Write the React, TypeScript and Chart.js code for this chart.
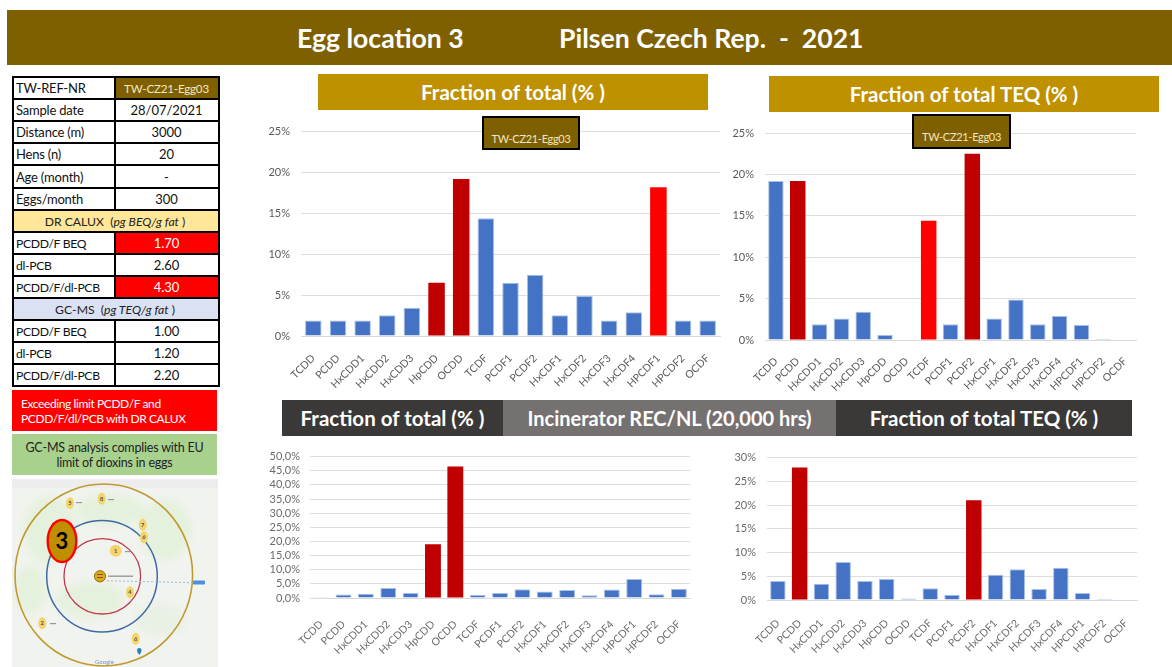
import React, { useEffect, useRef } from "react";
import { Chart, registerables } from "chart.js";

Chart.register(...registerables);

const FONT = "Lato, 'Open Sans', sans-serif";

const categories = ["TCDD", "PCDD", "HxCDD1", "HxCDD2", "HxCDD3", "HpCDD", "OCDD", "TCDF", "PCDF1", "PCDF2", "HxCDF1", "HxCDF2", "HxCDF3", "HxCDF4", "HPCDF1", "HPCDF2", "OCDF"];

const eggFraction = [1.9, 1.9, 1.9, 2.55, 3.45, 6.5, 19.2, 14.4, 6.5, 7.5, 2.55, 4.9, 1.9, 2.9, 18.2, 1.9, 1.9];
const eggTeq = [19.2, 19.2, 1.9, 2.6, 3.4, 0.6, 0, 14.4, 1.9, 22.5, 2.6, 4.9, 1.9, 2.9, 1.8, 0.15, 0];
const incFraction = [0.3, 1.2, 1.5, 3.5, 1.8, 19.0, 46.5, 1.1, 1.8, 3.1, 2.3, 2.8, 1.0, 3.0, 6.7, 1.3, 3.3];
const incTeq = [4.0, 27.9, 3.4, 8.0, 4.0, 4.4, 0.3, 2.5, 1.1, 21.0, 5.3, 6.5, 2.3, 6.8, 1.5, 0.2, 0];

const eggFractionDark = ["HpCDD", "OCDD"];
const eggFractionBright = ["HPCDF1"];
const eggTeqDark = ["PCDD", "PCDF2"];
const eggTeqBright = ["TCDF"];
const incFractionDark = ["HpCDD", "OCDD"];
const incTeqDark = ["PCDD", "PCDF2"];

const sampleCode = "TW-CZ21-Egg03";
const titleLeft = "Egg location 3";
const titleRight = "Pilsen Czech Rep.  -  2021";
const headFraction = "Fraction of total (% )";
const headTeq = "Fraction of total TEQ (% )";
const headIncinerator = "Incinerator REC/NL (20,000 hrs)";

const infoRows = [
  ["Sample date", "28/07/2021"],
  ["Distance (m)", "3000"],
  ["Hens (n)", "20"],
  ["Age (month)", "-"],
  ["Eggs/month", "300"],
];
const caluxRows = [
  ["PCDD/F BEQ", "1.70"],
  ["dl-PCB", "2.60"],
  ["PCDD/F/dl-PCB", "4.30"],
];
const caluxExceeded = ["PCDD/F BEQ", "PCDD/F/dl-PCB"];
const gcmsRows = [
  ["PCDD/F BEQ", "1.00"],
  ["dl-PCB", "1.20"],
  ["PCDD/F/dl-PCB", "2.20"],
];

type Box = { l: number; t: number; r: number; b: number };

function BarChart(props: {
  values: number[];
  dark: string[];
  bright?: string[];
  max: number;
  step: number;
  decimals: number;
  canvas: Box;
  plot: Box;
  bar: number;
  tickColor: string;
  xPad: number;
  yPad: number;
}) {
  const ref = useRef<HTMLCanvasElement>(null);
  const { values, dark, bright = [], max, step, decimals, canvas, plot, bar, tickColor, xPad, yPad } = props;
  useEffect(() => {
    const colorOf = (c: string) => (dark.includes(c) ? "#C00000" : bright.includes(c) ? "#FF0000" : "#4472C4");
    const chart = new Chart(ref.current!, {
      type: "bar",
      data: {
        labels: categories,
        datasets: [
          {
            data: values,
            backgroundColor: categories.map(colorOf),
            borderColor: categories.map((c) => (colorOf(c) === "#4472C4" ? "#A9BFE6" : colorOf(c))),
            borderWidth: categories.map((c) => (colorOf(c) === "#4472C4" ? 1 : 0)),
            barPercentage: bar,
            categoryPercentage: 1,
          },
        ],
      },
      options: {
        animation: false,
        responsive: false,
        maintainAspectRatio: false,
        layout: { padding: { top: plot.t - canvas.t, right: canvas.r - plot.r, left: 0, bottom: 0 } },
        plugins: { legend: { display: false }, tooltip: { enabled: false }, title: { display: false } },
        scales: {
          x: {
            grid: { display: false },
            border: { color: "#D9D9D9", width: 1 },
            afterFit: (s: any) => {
              s.height = canvas.b - plot.b;
            },
            ticks: {
              autoSkip: false,
              minRotation: 45,
              maxRotation: 45,
              padding: xPad,
              color: tickColor,
              font: { family: FONT, size: 10.5 },
            },
          },
          y: {
            min: 0,
            max,
            afterFit: (s: any) => {
              s.width = plot.l - canvas.l;
            },
            grid: { color: "#DEDEDE", lineWidth: 1, drawTicks: false },
            border: { display: false },
            ticks: {
              autoSkip: false,
              stepSize: step,
              padding: yPad,
              color: tickColor,
              font: { family: FONT, size: 11 },
              callback: (v: any) => Number(v).toFixed(decimals).replace(".", ",") + "%",
            },
          },
        },
      },
    });
    return () => chart.destroy();
  }, []);
  return (
    <canvas
      ref={ref}
      width={canvas.r - canvas.l}
      height={canvas.b - canvas.t}
      style={{ position: "absolute", left: canvas.l, top: canvas.t, width: canvas.r - canvas.l, height: canvas.b - canvas.t }}
    />
  );
}

function Band(p: { l: number; t: number; r: number; b: number; bg: string; children?: React.ReactNode; size?: number }) {
  return (
    <div
      style={{
        position: "absolute",
        left: p.l,
        top: p.t,
        width: p.r - p.l,
        height: p.b - p.t,
        background: p.bg,
        color: "#fff",
        fontSize: p.size ?? 20.5,
        fontWeight: 700,
        display: "flex",
        alignItems: "center",
        justifyContent: "center",
        boxSizing: "border-box",
        whiteSpace: "pre",
      }}
    >
      {p.children}
    </div>
  );
}

function Badge(p: { l: number; t: number; r: number; b: number }) {
  return (
    <div
      style={{
        position: "absolute",
        left: p.l,
        top: p.t,
        width: p.r - p.l,
        height: p.b - p.t,
        background: "#7F6000",
        border: "2px solid #000",
        boxSizing: "border-box",
        color: "#F3E6C4",
        fontSize: 11,
        letterSpacing: -0.3,
        whiteSpace: "nowrap",
        display: "flex",
        alignItems: "center",
        justifyContent: "center",
        paddingTop: 10,
      }}
    >
      {sampleCode}
    </div>
  );
}

const TBL = { l: 12, r: 218, mid: 115, top: 77, row: 22.1 };

function Row(p: { i: number; label: string; value: string; valueBg?: string; valueColor?: string }) {
  const top = Math.round(TBL.top + p.i * TBL.row);
  const bottom = Math.round(TBL.top + (p.i + 1) * TBL.row);
  const base: React.CSSProperties = { position: "absolute", top, height: bottom - top, display: "flex", alignItems: "center", fontSize: 13, color: "#111", whiteSpace: "nowrap" };
  const caps = /PCB|PCDD/.test(p.label);
  return (
    <>
      <div style={{ ...base, left: TBL.l, width: TBL.mid - TBL.l, paddingLeft: 4, boxSizing: "border-box", fontSize: caps ? 12.2 : 13, letterSpacing: caps ? -0.35 : -0.2 }}>{p.label}</div>
      <div style={{ ...base, left: TBL.mid, width: TBL.r - TBL.mid, justifyContent: "center", background: p.valueBg, color: p.valueColor ?? "#111", fontSize: p.i === 0 ? 11.6 : 13, letterSpacing: p.i === 0 ? -0.2 : 0 }}>{p.value}</div>
    </>
  );
}

function SectionRow(p: { i: number; bg: string; children: React.ReactNode }) {
  const top = Math.round(TBL.top + p.i * TBL.row);
  const bottom = Math.round(TBL.top + (p.i + 1) * TBL.row);
  return (
    <div style={{ position: "absolute", top, height: bottom - top, left: TBL.l, width: TBL.r - TBL.l, background: p.bg, display: "flex", alignItems: "center", justifyContent: "center", fontSize: 12.2, color: "#222", whiteSpace: "pre" }}>
      {p.children}
    </div>
  );
}

function Table() {
  const rows = 14;
  const sections = [6, 10];
  const lines: React.ReactNode[] = [];
  for (let i = 0; i <= rows; i++) {
    lines.push(<div key={"h" + i} style={{ position: "absolute", left: TBL.l, width: TBL.r - TBL.l + 2, top: Math.round(TBL.top + i * TBL.row) - 1, height: 2, background: "#000" }} />);
  }
  for (let i = 0; i < rows; i++) {
    if (sections.includes(i)) continue;
    lines.push(<div key={"v" + i} style={{ position: "absolute", left: TBL.mid - 1, width: 2, top: Math.round(TBL.top + i * TBL.row), height: 23, background: "#000" }} />);
  }
  return (
    <>
      <Row i={0} label="TW-REF-NR" value={sampleCode} valueBg="#7F6000" valueColor="#F3E6C4" />
      {infoRows.map((r, i) => (
        <Row key={r[0]} i={i + 1} label={r[0]} value={r[1]} />
      ))}
      <SectionRow i={6} bg="#FFE699">
        DR CALUX  (<i>pg BEQ/g fat</i> )
      </SectionRow>
      {caluxRows.map((r, i) => (
        <Row key={"c" + r[0]} i={i + 7} label={r[0]} value={r[1]} valueBg={caluxExceeded.includes(r[0]) ? "#FF0000" : undefined} valueColor={caluxExceeded.includes(r[0]) ? "#fff" : undefined} />
      ))}
      <SectionRow i={10} bg="#D9E1F2">
        GC-MS  (<i>pg TEQ/g fat</i> )
      </SectionRow>
      {gcmsRows.map((r, i) => (
        <Row key={"g" + r[0]} i={i + 11} label={r[0]} value={r[1]} />
      ))}
      {lines}
      <div style={{ position: "absolute", left: TBL.l, top: TBL.top - 1, width: 2, height: 310, background: "#000" }} />
      <div style={{ position: "absolute", left: TBL.r, top: TBL.top - 1, width: 2, height: 310, background: "#000" }} />
    </>
  );
}

const mapMarkers: [number, number, string][] = [
  [70, 503.3, "5"],
  [101.7, 498.7, "8"],
  [142.7, 524.7, "7"],
  [144, 537.3, "6"],
  [115.7, 550.7, "1"],
  [130, 592.3, "4"],
  [42.3, 623.3, "2"],
  [135.7, 638.7, "6"],
];

function MapPanel() {
  return (
    <svg width={1172} height={667} style={{ position: "absolute", left: 0, top: 0, pointerEvents: "none" }}>
      <defs>
        <clipPath id="mapclip">
          <rect x={12} y={479} width={206} height={188} />
        </clipPath>
        <filter id="soft" x="-30%" y="-30%" width="160%" height="160%">
          <feGaussianBlur stdDeviation="4" />
        </filter>
        <filter id="soft2" x="-30%" y="-30%" width="160%" height="160%">
          <feGaussianBlur stdDeviation="0.5" />
        </filter>
      </defs>
      <g clipPath="url(#mapclip)">
        <rect x={12} y={479} width={206} height={188} fill="#F1F3EF" />
        <g filter="url(#soft)" fill="#E4F1DC">
          <ellipse cx={50} cy={530} rx={26} ry={34} />
          <ellipse cx={110} cy={510} rx={34} ry={16} />
          <ellipse cx={165} cy={530} rx={26} ry={30} />
          <ellipse cx={90} cy={600} rx={34} ry={18} />
          <ellipse cx={30} cy={590} rx={16} ry={24} />
          <ellipse cx={160} cy={620} rx={26} ry={16} fill="#E9F0E4" />
        </g>
        <rect x={12} y={479} width={206} height={9} fill="#EDEDED" />
        <g filter="url(#soft2)">
          <ellipse cx={103.8} cy={575} rx={88.8} ry={91} fill="none" stroke="#BF9A2E" strokeWidth={1.6} />
          <ellipse cx={102} cy={576.3} rx={55.3} ry={55.7} fill="none" stroke="#3E6AA6" strokeWidth={1.5} />
          <ellipse cx={102.3} cy={576.3} rx={38.3} ry={37.7} fill="none" stroke="#C0394B" strokeWidth={1.3} />
          <line x1={107} y1={580.7} x2={194} y2={582.7} stroke="#9DB9D9" strokeWidth={1} strokeDasharray="2 2" />
          <rect x={193} y={580.5} width={12} height={4} rx={1} fill="#4A90E2" />
          <path d="M139.3 655 q-2.3 -3 -2.3 -4.6 a2.3 2.3 0 1 1 4.6 0 q0 1.6 -2.3 4.6z" fill="#2E7FB8" />
          <text x={95} y={664} fontSize={6} fontFamily={FONT} fill="#7A93C4">
            Google
          </text>
          <rect x={76} y={502} width={6} height={1.2} fill="#999" />
          <rect x={108} y={499} width={6} height={1.2} fill="#999" />
          <rect x={50} y={623} width={6} height={1.2} fill="#999" />
          <rect x={108} y={575.5} width={25} height={1.4} fill="#999" />
          <rect x={125} y={551} width={5} height={1.2} fill="#999" />
          <circle cx={100} cy={576.3} r={5.6} fill="#E0A81E" stroke="#8A6A10" strokeWidth={1} />
          <rect x={97} y={574} width={6} height={1} fill="#7A5B00" />
          <rect x={97} y={577} width={6} height={1} fill="#7A5B00" />
          {mapMarkers.map(([x, y, t], i) => (
            <g key={i}>
              <ellipse cx={x} cy={y} rx={i === 4 ? 6 : 4} ry={6} fill="#F5D469" />
              <text x={x} y={y + 2} textAnchor="middle" fontSize={6} fontWeight={700} fontFamily={FONT} fill="#555">
                {t}
              </text>
            </g>
          ))}
        </g>
        <ellipse cx={62} cy={541} rx={14.3} ry={21} fill="#BF8F00" stroke="#FF0000" strokeWidth={2.4} />
        <text x={62} y={549} textAnchor="middle" fontSize={22} fontWeight={700} fontFamily={FONT} fill="#000">
          3
        </text>
      </g>
    </svg>
  );
}

export default function App() {
  return (
    <div style={{ position: "absolute", left: 0, top: 0, width: 1172, height: 667, overflow: "hidden", background: "#fff", fontFamily: FONT }}>
      <div style={{ position: "absolute", left: 7, top: 10, width: 1165, height: 55, background: "#7F6000" }} />
      <div style={{ position: "absolute", left: 297, top: 22, height: 32, lineHeight: "32px", color: "#fff", fontWeight: 700, fontSize: 26.6 }}>{titleLeft}</div>
      <div style={{ position: "absolute", left: 559, top: 22, height: 32, lineHeight: "32px", color: "#fff", fontWeight: 700, fontSize: 26.6, whiteSpace: "pre" }}>{titleRight}</div>

      <Band l={318} t={74} r={708} b={110} bg="#BF9000">{headFraction}</Band>
      <Band l={769} t={76} r={1159} b={112} bg="#BF9000">{headTeq}</Band>

      <BarChart values={eggFraction} dark={eggFractionDark} bright={eggFractionBright} max={25} step={5} decimals={0} canvas={{ l: 260, t: 114, r: 725, b: 392 }} plot={{ l: 301, t: 127, r: 720, b: 336 }} bar={0.67} tickColor="#595959" xPad={8} yPad={11} />
      <BarChart values={eggTeq} dark={eggTeqDark} bright={eggTeqBright} max={25} step={5} decimals={0} canvas={{ l: 725, t: 114, r: 1170, b: 392 }} plot={{ l: 765, t: 133, r: 1136, b: 340 }} bar={0.71} tickColor="#595959" xPad={7} yPad={11} />
      <BarChart values={incFraction} dark={incFractionDark} max={50} step={5} decimals={1} canvas={{ l: 262, t: 440, r: 700, b: 667 }} plot={{ l: 310, t: 450, r: 693, b: 598 }} bar={0.71} tickColor="#6B6B6B" xPad={12} yPad={10} />
      <BarChart values={incTeq} dark={incTeqDark} max={30} step={5} decimals={0} canvas={{ l: 726, t: 440, r: 1172, b: 667 }} plot={{ l: 767, t: 450, r: 1137, b: 600 }} bar={0.71} tickColor="#6B6B6B" xPad={9} yPad={11} />

      <Badge l={482} t={116} r={580} b={150} />
      <Badge l={912} t={114} r={1011} b={149} />

      <Band l={282} t={400} r={503} b={436} bg="#3B3838">{headFraction}</Band>
      <Band l={503} t={400} r={836} b={436} bg="#767171" size={20}>{headIncinerator}</Band>
      <Band l={836} t={400} r={1132} b={436} bg="#3B3838">{headTeq}</Band>

      <Table />

      <div style={{ position: "absolute", left: 12, top: 390, width: 205, height: 41, background: "#FF0000", color: "#fff", fontSize: 12, letterSpacing: -0.4, lineHeight: "15px", padding: "6px 0 0 9px", boxSizing: "border-box", whiteSpace: "nowrap" }}>
        Exceeding limit PCDD/F and
        <br />
        PCDD/F/dl/PCB with DR CALUX
      </div>
      <div style={{ position: "absolute", left: 12, top: 434, width: 205, height: 41, background: "#A9D18E", color: "#222", fontSize: 12.5, letterSpacing: -0.2, lineHeight: "15px", paddingTop: 6, boxSizing: "border-box", textAlign: "center", whiteSpace: "nowrap" }}>
        GC-MS analysis complies with EU
        <br />
        limit of dioxins in eggs
      </div>

      <MapPanel />
    </div>
  );
}
